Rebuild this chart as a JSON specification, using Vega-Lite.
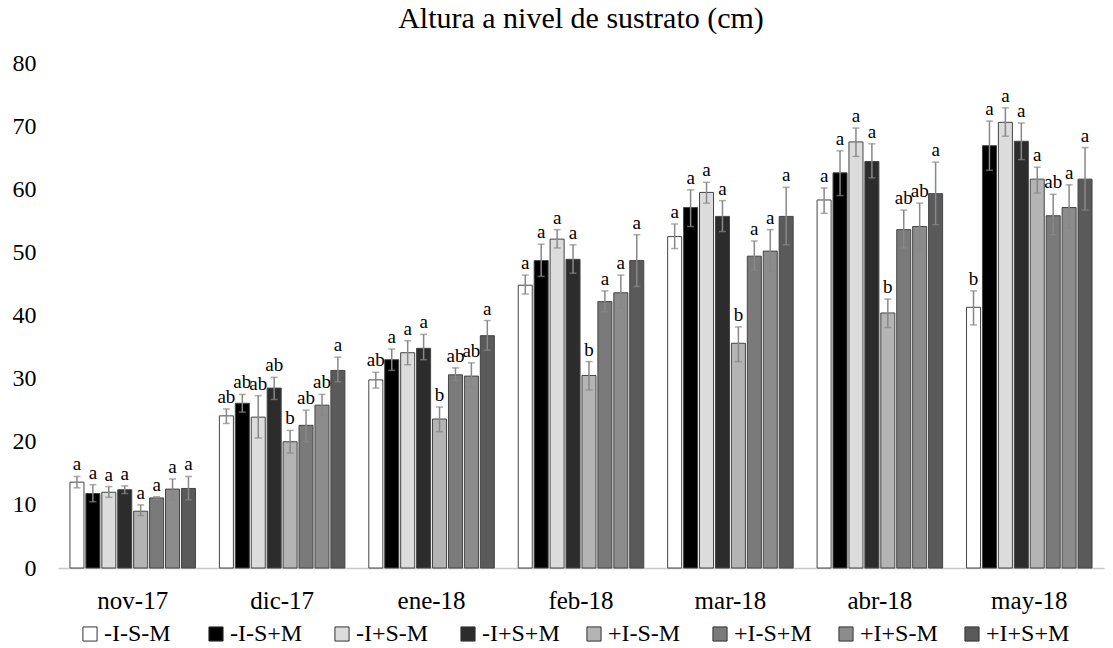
{
  "$schema": "https://vega.github.io/schema/vega-lite/v6.json",
  "width": 1046,
  "height": 505,
  "autosize": {"type": "none"},
  "padding": {"left": 58, "top": 63, "right": 9, "bottom": 80},
  "background": "white",
  "title": {"text": "Altura a nivel de sustrato (cm)", "font": "Liberation Serif", "fontSize": 30, "fontWeight": "normal", "color": "black", "offset": 17, "anchor": "middle"},
  "config": {"view": {"stroke": null}, "font": "Liberation Serif"},
  "data": {"values": [
    {"month": "nov-17", "trt": "-I-S-M", "mean": 13.6, "lo": 12.7, "hi": 14.5, "letter": "a"},
    {"month": "nov-17", "trt": "-I-S+M", "mean": 11.8, "lo": 10.5, "hi": 13.2, "letter": "a"},
    {"month": "nov-17", "trt": "-I+S-M", "mean": 12.0, "lo": 11.2, "hi": 12.9, "letter": "a"},
    {"month": "nov-17", "trt": "-I+S+M", "mean": 12.4, "lo": 11.8, "hi": 13.0, "letter": "a"},
    {"month": "nov-17", "trt": "+I-S-M", "mean": 9.0, "lo": 8.3, "hi": 10.0, "letter": "a"},
    {"month": "nov-17", "trt": "+I-S+M", "mean": 11.1, "lo": 10.9, "hi": 11.3, "letter": "a"},
    {"month": "nov-17", "trt": "+I+S-M", "mean": 12.5, "lo": 10.8, "hi": 14.1, "letter": "a"},
    {"month": "nov-17", "trt": "+I+S+M", "mean": 12.6, "lo": 10.8, "hi": 14.5, "letter": "a"},
    {"month": "dic-17", "trt": "-I-S-M", "mean": 24.1, "lo": 22.9, "hi": 25.2, "letter": "ab"},
    {"month": "dic-17", "trt": "-I-S+M", "mean": 26.1, "lo": 24.7, "hi": 27.5, "letter": "ab"},
    {"month": "dic-17", "trt": "-I+S-M", "mean": 23.9, "lo": 20.6, "hi": 27.3, "letter": "ab"},
    {"month": "dic-17", "trt": "-I+S+M", "mean": 28.5, "lo": 26.7, "hi": 30.2, "letter": "ab"},
    {"month": "dic-17", "trt": "+I-S-M", "mean": 20.0, "lo": 18.2, "hi": 21.8, "letter": "b"},
    {"month": "dic-17", "trt": "+I-S+M", "mean": 22.6, "lo": 20.0, "hi": 25.0, "letter": "ab"},
    {"month": "dic-17", "trt": "+I+S-M", "mean": 25.8, "lo": 24.2, "hi": 27.5, "letter": "ab"},
    {"month": "dic-17", "trt": "+I+S+M", "mean": 31.3, "lo": 29.5, "hi": 33.4, "letter": "a"},
    {"month": "ene-18", "trt": "-I-S-M", "mean": 29.8, "lo": 28.5, "hi": 31.0, "letter": "ab"},
    {"month": "ene-18", "trt": "-I-S+M", "mean": 33.0, "lo": 31.3, "hi": 34.7, "letter": "a"},
    {"month": "ene-18", "trt": "-I+S-M", "mean": 34.1, "lo": 32.2, "hi": 36.0, "letter": "a"},
    {"month": "ene-18", "trt": "-I+S+M", "mean": 34.8, "lo": 33.0, "hi": 37.0, "letter": "a"},
    {"month": "ene-18", "trt": "+I-S-M", "mean": 23.6, "lo": 21.6, "hi": 25.5, "letter": "b"},
    {"month": "ene-18", "trt": "+I-S+M", "mean": 30.6, "lo": 29.7, "hi": 31.7, "letter": "ab"},
    {"month": "ene-18", "trt": "+I+S-M", "mean": 30.4, "lo": 28.6, "hi": 32.5, "letter": "ab"},
    {"month": "ene-18", "trt": "+I+S+M", "mean": 36.8, "lo": 34.5, "hi": 39.2, "letter": "a"},
    {"month": "feb-18", "trt": "-I-S-M", "mean": 44.8, "lo": 43.4, "hi": 46.4, "letter": "a"},
    {"month": "feb-18", "trt": "-I-S+M", "mean": 48.7, "lo": 46.2, "hi": 51.3, "letter": "a"},
    {"month": "feb-18", "trt": "-I+S-M", "mean": 52.1, "lo": 50.7, "hi": 53.6, "letter": "a"},
    {"month": "feb-18", "trt": "-I+S+M", "mean": 48.9, "lo": 46.7, "hi": 51.2, "letter": "a"},
    {"month": "feb-18", "trt": "+I-S-M", "mean": 30.5, "lo": 28.2, "hi": 32.7, "letter": "b"},
    {"month": "feb-18", "trt": "+I-S+M", "mean": 42.2, "lo": 40.6, "hi": 43.9, "letter": "a"},
    {"month": "feb-18", "trt": "+I+S-M", "mean": 43.6, "lo": 41.2, "hi": 46.4, "letter": "a"},
    {"month": "feb-18", "trt": "+I+S+M", "mean": 48.7, "lo": 44.6, "hi": 52.8, "letter": "a"},
    {"month": "mar-18", "trt": "-I-S-M", "mean": 52.5, "lo": 50.6, "hi": 54.5, "letter": "a"},
    {"month": "mar-18", "trt": "-I-S+M", "mean": 57.1, "lo": 54.1, "hi": 59.9, "letter": "a"},
    {"month": "mar-18", "trt": "-I+S-M", "mean": 59.5, "lo": 57.8, "hi": 61.1, "letter": "a"},
    {"month": "mar-18", "trt": "-I+S+M", "mean": 55.7, "lo": 53.3, "hi": 58.2, "letter": "a"},
    {"month": "mar-18", "trt": "+I-S-M", "mean": 35.6, "lo": 32.7, "hi": 38.2, "letter": "b"},
    {"month": "mar-18", "trt": "+I-S+M", "mean": 49.4, "lo": 47.2, "hi": 51.8, "letter": "a"},
    {"month": "mar-18", "trt": "+I+S-M", "mean": 50.2, "lo": 47.0, "hi": 53.6, "letter": "a"},
    {"month": "mar-18", "trt": "+I+S+M", "mean": 55.7, "lo": 51.2, "hi": 60.3, "letter": "a"},
    {"month": "abr-18", "trt": "-I-S-M", "mean": 58.3, "lo": 56.2, "hi": 60.2, "letter": "a"},
    {"month": "abr-18", "trt": "-I-S+M", "mean": 62.6, "lo": 59.0, "hi": 66.1, "letter": "a"},
    {"month": "abr-18", "trt": "-I+S-M", "mean": 67.5, "lo": 65.2, "hi": 69.7, "letter": "a"},
    {"month": "abr-18", "trt": "-I+S+M", "mean": 64.4, "lo": 61.8, "hi": 67.2, "letter": "a"},
    {"month": "abr-18", "trt": "+I-S-M", "mean": 40.4, "lo": 38.1, "hi": 42.6, "letter": "b"},
    {"month": "abr-18", "trt": "+I-S+M", "mean": 53.6, "lo": 50.7, "hi": 56.7, "letter": "ab"},
    {"month": "abr-18", "trt": "+I+S-M", "mean": 54.1, "lo": 50.4, "hi": 57.8, "letter": "ab"},
    {"month": "abr-18", "trt": "+I+S+M", "mean": 59.3, "lo": 54.4, "hi": 64.3, "letter": "a"},
    {"month": "may-18", "trt": "-I-S-M", "mean": 41.3, "lo": 38.5, "hi": 43.9, "letter": "b"},
    {"month": "may-18", "trt": "-I-S+M", "mean": 66.9, "lo": 63.0, "hi": 70.8, "letter": "a"},
    {"month": "may-18", "trt": "-I+S-M", "mean": 70.6, "lo": 68.4, "hi": 72.9, "letter": "a"},
    {"month": "may-18", "trt": "-I+S+M", "mean": 67.6, "lo": 64.7, "hi": 70.5, "letter": "a"},
    {"month": "may-18", "trt": "+I-S-M", "mean": 61.6, "lo": 59.4, "hi": 63.5, "letter": "a"},
    {"month": "may-18", "trt": "+I-S+M", "mean": 55.8, "lo": 52.8, "hi": 59.2, "letter": "ab"},
    {"month": "may-18", "trt": "+I+S-M", "mean": 57.1, "lo": 53.8, "hi": 60.7, "letter": "a"},
    {"month": "may-18", "trt": "+I+S+M", "mean": 61.6, "lo": 56.7, "hi": 66.6, "letter": "a"}
  ]},
  "encoding": {
    "x": {"field": "month", "type": "nominal", "sort": ["nov-17", "dic-17", "ene-18", "feb-18", "mar-18", "abr-18", "may-18"],
      "scale": {"paddingInner": 0.16, "paddingOuter": 0.08},
      "axis": {"title": null, "labelAngle": 0, "labelFont": "Liberation Serif", "labelFontSize": 25, "labelColor": "black", "labelPadding": 20, "ticks": false, "domainColor": "#c8c8c8", "domainWidth": 1.5}},
    "xOffset": {"field": "trt", "type": "nominal", "sort": ["-I-S-M", "-I-S+M", "-I+S-M", "-I+S+M", "+I-S-M", "+I-S+M", "+I+S-M", "+I+S+M"], "scale": {"paddingInner": 0.12}}
  },
  "layer": [
    {
      "mark": {"type": "bar", "stroke": "#444", "strokeWidth": 1},
      "encoding": {
        "y": {"field": "mean", "type": "quantitative", "scale": {"domain": [0, 80]},
          "axis": {"title": null, "values": [0, 10, 20, 30, 40, 50, 60, 70, 80], "grid": false, "domain": false, "ticks": false, "labelFont": "Liberation Serif", "labelFontSize": 24, "labelColor": "black", "labelPadding": 22}},
        "fill": {"field": "trt", "type": "nominal",
          "scale": {"domain": ["-I-S-M", "-I-S+M", "-I+S-M", "-I+S+M", "+I-S-M", "+I-S+M", "+I+S-M", "+I+S+M"],
                    "range": ["#ffffff", "#000000", "#dcdcdc", "#2c2c2c", "#b4b4b4", "#7a7a7a", "#8c8c8c", "#5a5a5a"]},
          "legend": {"title": null, "orient": "none", "legendX": 20, "legendY": 559, "direction": "horizontal", "columns": 8, "symbolType": "square", "symbolSize": 200, "symbolStrokeColor": "#333", "symbolStrokeWidth": 1, "labelFont": "Liberation Serif", "labelFontSize": 24, "labelColor": "black", "labelOffset": 2, "columnPadding": 16, "gridAlign": "all"}}
      }
    },
    {
      "mark": {"type": "rule", "color": "#888", "strokeWidth": 1.5},
      "encoding": {"y": {"field": "lo", "type": "quantitative"}, "y2": {"field": "hi"}}
    },
    {
      "mark": {"type": "tick", "color": "#888", "size": 7, "thickness": 1.5},
      "encoding": {"y": {"field": "lo", "type": "quantitative"}}
    },
    {
      "mark": {"type": "tick", "color": "#888", "size": 7, "thickness": 1.5},
      "encoding": {"y": {"field": "hi", "type": "quantitative"}}
    },
    {
      "mark": {"type": "text", "font": "Liberation Serif", "fontSize": 19, "color": "black", "baseline": "bottom", "dy": -2},
      "encoding": {"y": {"field": "hi", "type": "quantitative"}, "text": {"field": "letter"}}
    }
  ]
}
